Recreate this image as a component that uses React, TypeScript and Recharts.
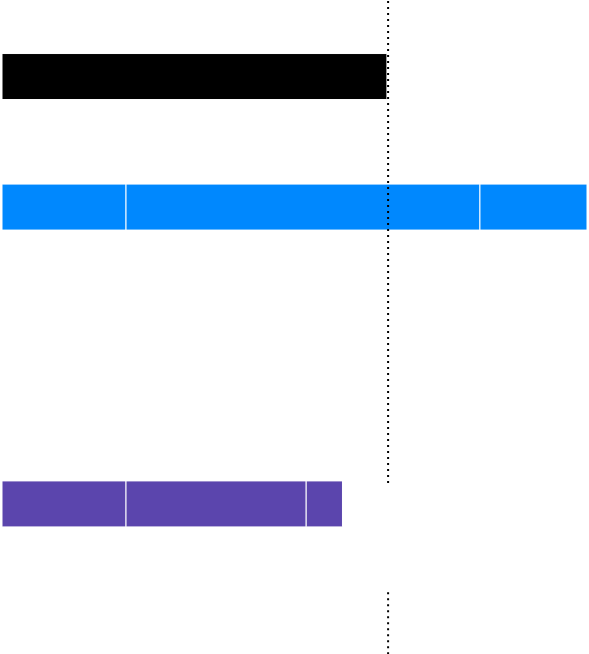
import React from 'react';
import { BarChart, Bar, Cell, XAxis, YAxis, ReferenceLine } from 'recharts';

// rows of the chart, top to bottom (empty rows keep the spacing)
const ROWS = ['r0', 'r1', 'r2', 'r3', 'r4', 'r5', 'r6', 'r7', 'r8', 'r9', 'r10'];
const ROW_COLORS = ['', '#000000', '', '#0088FE', '', '', '', '', '#5B45AD', '', ''];

const BASE = [null, 65.8, null, null, null, null, null, null, null, null, null];
const PART_A = [null, null, null, 21.2, null, null, null, null, 21.2, null, null];
const PART_B = [null, null, null, 60.5, null, null, null, null, 30.8, null, null];
const PART_C = [null, null, null, 18.3, null, null, null, null, 6.2, null, null];

const X_MAX = 100;
const TARGET = 66;
// spans (in units of the span axis, 0..10) covered by the dotted target line
const TARGET_SPANS = [
  [0, 7.4],
  [8.99, 10],
];

const data = ROWS.map((row, i) => ({
  row,
  base: BASE[i],
  a: PART_A[i],
  b: PART_B[i],
  c: PART_C[i],
}));

export default function App() {
  const parts = ['a', 'b', 'c'];
  return (
    <div style={{ position: 'absolute', left: 0, top: 0, width: 589, height: 654, overflow: 'hidden' }}>
      <div style={{ marginTop: -11.5 }}>
        <BarChart
          width={589}
          height={671}
          layout="vertical"
          data={data}
          barSize={46}
          margin={{ top: 0, right: 2, bottom: 0, left: 2 }}
        >
          <XAxis type="number" domain={[0, X_MAX]} hide />
          <YAxis yAxisId="base" type="category" dataKey="row" padding={{ top: 0, bottom: 27 }} hide />
          <YAxis yAxisId="rows" type="category" dataKey="row" padding={{ top: 10, bottom: 8 }} hide />
          <YAxis
            yAxisId="span"
            type="number"
            domain={[0, 10]}
            allowDataOverflow
            hide
          />
          <Bar
            yAxisId="base"
            dataKey="base"
            stackId="s"
            fill="#000000"
            stroke="#fff"
            strokeWidth={1}
            isAnimationActive={false}
          />
          {parts.map((key) => (
            <Bar
              key={key}
              yAxisId="rows"
              dataKey={key}
              stackId="s"
              stroke="#fff"
              strokeWidth={1}
              isAnimationActive={false}
            >
              {data.map((d, i) => (
                <Cell key={`${key}-${i}`} fill={ROW_COLORS[i] || '#000'} />
              ))}
            </Bar>
          ))}
          {TARGET_SPANS.map(([from, to], i) => (
            <ReferenceLine
              key={`t-${i}`}
              yAxisId="span"
              segment={[
                { x: TARGET, y: from },
                { x: TARGET, y: to },
              ]}
              ifOverflow="visible"
              stroke="#000"
              strokeWidth={2}
              strokeDasharray="2 4"
            />
          ))}
        </BarChart>
      </div>
    </div>
  );
}
